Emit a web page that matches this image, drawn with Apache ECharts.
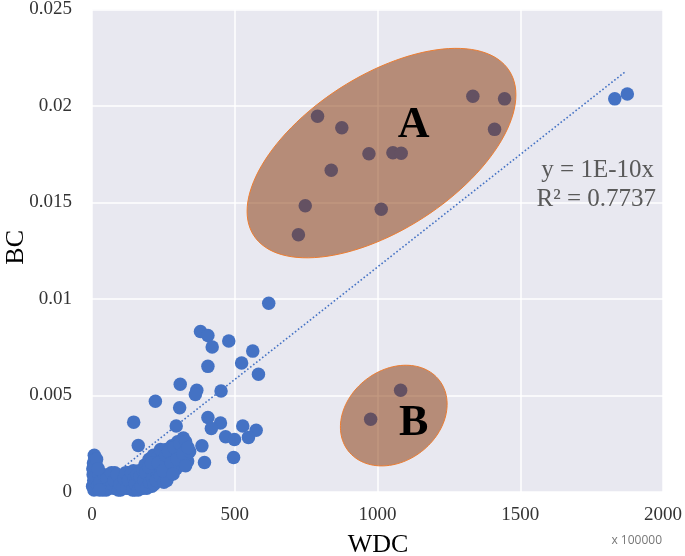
<!DOCTYPE html>
<html><head><meta charset="utf-8">
<script src="https://cdn.jsdelivr.net/npm/echarts@6/dist/echarts.min.js"></script>
<style>html,body{margin:0;padding:0;background:#fff}#c{width:685px;height:556px}</style>
</head><body><div id="c"></div>
<script>
// ---- data (WDC in units of 1e5, BC) ----
const xTicks = [0, 500, 1000, 1500, 2000];
const yTicks = [0, 0.005, 0.01, 0.015, 0.02, 0.025];

const clusterPoints = [
  [2,0.0003],[4,0.0009],[5,0.0015],[6,0.0006],[8,0.0019],[9,0.0012],[10,0.0017],[12,0.0004],[14,0.0010],[15,0.0014],[18,0.0007],[3,0.0012],[7,0.0001],[11,0.0008],[20,0.0003],
  [25,0.0009],[30,0.0002],[35,0.0006],[40,0.0004],[45,0.0008],[50,0.0001],[55,0.0005],[60,0.0009],[65,0.0003],[70,0.0007],[75,0.0002],[80,0.0010],[85,0.0005],[90,0.0003],[95,0.0008],[100,0.0001],[105,0.0006],[110,0.0009],[115,0.0003],[120,0.0005],[125,0.0010],[130,0.0002],[135,0.0007],[140,0.0004],[145,0.0011],[150,0.0001],[155,0.0006],[160,0.0003],[165,0.0011],[170,0.0005],[175,0.0008],[180,0.0002],[185,0.0014],[190,0.0006],[195,0.0004],[200,0.0017],[205,0.0009],[210,0.0003],[215,0.0019],[220,0.0011],
  [28,0.0005],[38,0.0001],[42,0.0009],[52,0.0007],[58,0.0002],[68,0.0010],[72,0.0004],[78,0.0006],[88,0.0009],[92,0.0001],[98,0.0004],[108,0.0002],[112,0.0007],[118,0.0010],[122,0.0002],[128,0.0006],[138,0.0010],[142,0.0001],[148,0.0007],[152,0.0004],[158,0.0009],[162,0.0001],[168,0.0008],[172,0.0003],[178,0.0011],[182,0.0006],[188,0.0010],[192,0.0002],[202,0.0005],[212,0.0007],[218,0.0004],[228,0.0010],[16,0.0017],[22,0.0012],[26,0.0001],
  [225,0.0006],[230,0.0018],[235,0.0013],[240,0.0008],[245,0.0021],[250,0.0015],[255,0.0010],[260,0.0022],[265,0.0017],[270,0.0012],[275,0.0009],[280,0.0024],[285,0.0019],[290,0.0014],[295,0.0012],[300,0.0026],[305,0.0021],[310,0.0016],[315,0.0014],[320,0.0028],[325,0.0023],[330,0.0018],[335,0.0016],[240,0.0022],[252,0.0005],[262,0.0006],[198,0.0013],[208,0.0015],
  [232,0.0015],[248,0.0011],[258,0.0019],[268,0.0021],[278,0.0015],[288,0.0023],[298,0.0017],[308,0.0025],[318,0.0020],[328,0.0026],[342,0.0021]
];
const outlierPoints = [
  [619,0.00978],[380,0.00832],[406,0.00811],[421,0.00751],[479,0.00782],[563,0.0073],[524,0.00668],[583,0.0061],[406,0.00651],
  [309,0.00558],[367,0.00527],[362,0.00505],[452,0.00523],[222,0.0047],[307,0.00437],[406,0.00386],[450,0.00358],[418,0.00329],
  [295,0.00342],[528,0.00342],[575,0.0032],[468,0.00286],[499,0.00272],[548,0.00283],[385,0.00239],[394,0.00153],[496,0.00179],
  [328,0.00136],[284,0.00093],[336,0.00231],[146,0.00362],[162,0.00241],[1831,0.02037],[1875,0.02062]
];
const groupAPoints = [
  [790,0.01947],[875,0.01887],[970,0.01753],[1054,0.01758],[1083,0.01755],[838,0.01667],[747,0.01483],[723,0.01333],[1013,0.01465],[1334,0.02051],[1445,0.02037],[1410,0.01879]
];
const groupBPoints = [[1081,0.00527],[976,0.00377]];
const trendLine = [[0,0],[1870,0.0218]];
const ellipseCenters = [[1014,0.01756],[1057,0.00396]];
const groupLabels = [['A',1127,0.01896],['B',1127,0.00356]];
const equationLines = ['y = 1E-10x', 'R\u00B2 = 0.7737'];
const xName = 'WDC', yName = 'BC', xUnit = 'x 100000';

// ---- styles / shapes (pixel sizes) ----
const ellipseShapes = [{a:152, b:77, rot:32.8}, {a:57.6, b:45.4, rot:37.8}];
const SERIF = '"Liberation Serif","Times New Roman",serif';

const chart = echarts.init(document.getElementById('c'));
const allPoints = clusterPoints.concat(outlierPoints, groupAPoints, groupBPoints);

chart.setOption({
  animation: false,
  backgroundColor: '#ffffff',
  grid: {left: 92, top: 8, right: 20, bottom: 64, show: true, backgroundColor: '#E8E8F0', borderWidth: 0},
  xAxis: {
    type: 'value', min: xTicks[0], max: xTicks[xTicks.length-1], interval: 500,
    axisLine: {show: false}, axisTick: {show: false},
    splitLine: {show: true, lineStyle: {color: '#ffffff', width: 1.5}},
    axisLabel: {fontFamily: SERIF, fontSize: 19, color: '#333', margin: 14, formatter: v => String(v)}
  },
  yAxis: {
    type: 'value', min: yTicks[0], max: yTicks[yTicks.length-1], interval: 0.005,
    axisLine: {show: false}, axisTick: {show: false},
    splitLine: {show: true, lineStyle: {color: '#ffffff', width: 1.5}},
    axisLabel: {fontFamily: SERIF, fontSize: 19, color: '#333', margin: 20,
      formatter: v => String(+v.toFixed(3))}
  },
  graphic: [
    {type: 'text', left: 3, top: 230, rotation: Math.PI/2,
     style: {text: yName, font: '26px ' + SERIF, fill: '#000'}},
    {type: 'text', x: 378, y: 545, style: {text: xName, font: '26px ' + SERIF, fill: '#000', align: 'center', verticalAlign: 'middle'}},
    {type: 'text', x: 662, y: 541, style: {text: xUnit, font: '12px "Open Sans",sans-serif', fill: '#777', align: 'right', verticalAlign: 'middle'}},
    {type: 'text', x: 654, y: 170, z: 100, style: {text: equationLines[0], font: '25px ' + SERIF, fill: '#595959', align: 'right', verticalAlign: 'middle'}},
    {type: 'text', x: 656, y: 199, z: 100, style: {text: equationLines[1], font: '25px ' + SERIF, fill: '#595959', align: 'right', verticalAlign: 'middle'}}
  ],
  series: [
    {type: 'line', data: trendLine, symbol: 'none', z: 1, silent: true,
     lineStyle: {color: '#4472C4', width: 1.6, type: [1.6, 2.2]}},
    {type: 'scatter', data: allPoints, symbolSize: 13.5, z: 2,
     itemStyle: {color: '#4472C4', opacity: 1}},
    {type: 'custom', data: ellipseCenters, z: 5, silent: true,
     renderItem: function (params, api) {
       const c = api.coord([api.value(0), api.value(1)]);
       const e = ellipseShapes[params.dataIndex];
       const t = e.rot * Math.PI / 180;
       const pts = [];
       for (let k = 0; k < 120; k++) {
         const p = k / 120 * Math.PI * 2;
         const x = e.a * Math.cos(p), y = e.b * Math.sin(p);
         pts.push([c[0] + x*Math.cos(t) - y*Math.sin(t), c[1] - (x*Math.sin(t) + y*Math.cos(t))]);
       }
       return {type: 'polygon', shape: {points: pts},
         style: {fill: 'rgba(131,48,0,0.5)', stroke: '#ED7D31', lineWidth: 1}};
     }},
    {type: 'custom', data: groupLabels.map(g => [g[1], g[2], g[0]]), z: 6, silent: true,
     renderItem: function (params, api) {
       const c = api.coord([api.value(0), api.value(1)]);
       return {type: 'text', x: c[0], y: c[1],
         style: {text: groupLabels[params.dataIndex][0], font: 'bold 44px ' + SERIF, fill: '#000', align: 'center', verticalAlign: 'middle'}};
     }}
  ]
});
</script></body></html>
